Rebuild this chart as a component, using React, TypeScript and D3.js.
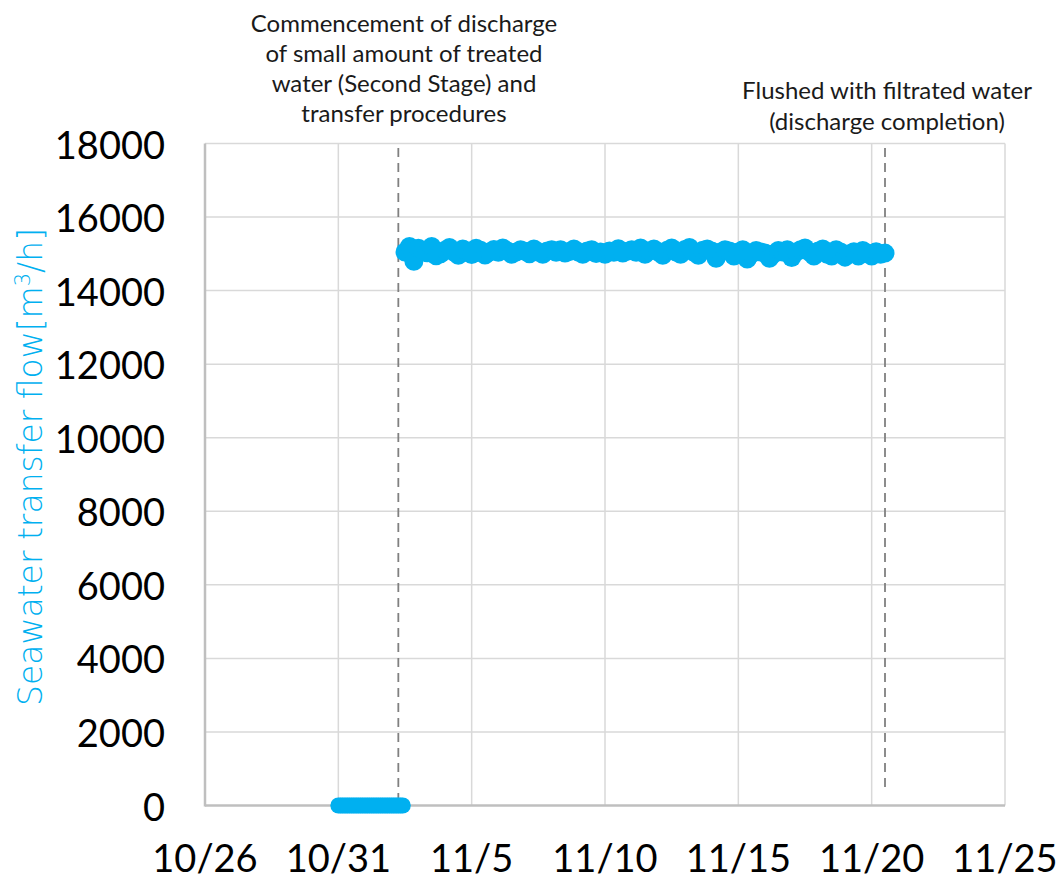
import React from "react";
import * as d3 from "d3";

// ---- data ----
const FLOW_START = "2023-11-02T12:00:00";
const FLOW_STEP_HOURS = 4;
const flowValues = [
  // 11/2 (12:00, 16:00, 20:00)
  15050, 15200, 14800,
  // 11/3
  15150, 15100, 15030, 15200, 14950, 15000,
  // 11/4
  15100, 15170, 15050, 14960, 15130, 15080,
  // 11/5
  14980, 15150, 15100, 14970, 15050, 15120,
  // 11/6
  15040, 15160, 15080, 14990, 15050, 15110,
  // 11/7
  15070, 15000, 15130, 15050, 14990, 15080,
  // 11/8
  15110, 15040, 15110, 15020, 15060, 15130,
  // 11/9
  15050, 14990, 15080, 15110, 15010, 15050,
  // 11/10
  14990, 15080, 15040, 15140, 15020, 15070,
  // 11/11
  15110, 15040, 15160, 14990, 15080, 15130,
  // 11/12
  15050, 14960, 15100, 15160, 15050, 14990,
  // 11/13
  15120, 15170, 15040, 14960, 15100, 15130,
  // 11/14
  15080, 14880, 15050, 15110, 15080, 14940,
  // 11/15
  15050, 15110, 14860, 15000, 15090, 15050,
  // 11/16
  15020, 14880, 15000, 15090, 15050, 15110,
  // 11/17
  14900, 15050, 15110, 15160, 15050, 14940,
  // 11/18
  15080, 15130, 14990, 14940, 15110, 15050,
  // 11/19
  14910, 15000, 15060, 14940, 15090, 15020,
  // 11/20 (00:00 .. 12:00)
  14940, 15060, 14990, 15020,
];

const ZERO_START = "2023-10-31T00:00:00";
const ZERO_STEP_HOURS = 2;
const zeroValues = [
  0, 0, 0, 0, 0, 0, 0, 0, 0, 0,
  0, 0, 0, 0, 0, 0, 0, 0, 0, 0,
  0, 0, 0, 0, 0, 0, 0, 0, 0, 0,
];

const xDomain = ["2023-10-26T00:00:00", "2023-11-25T00:00:00"];
const xTickDates = [
  "2023-10-26T00:00:00",
  "2023-10-31T00:00:00",
  "2023-11-05T00:00:00",
  "2023-11-10T00:00:00",
  "2023-11-15T00:00:00",
  "2023-11-20T00:00:00",
  "2023-11-25T00:00:00",
];
const xTickLabels = ["10/26", "10/31", "11/5", "11/10", "11/15", "11/20", "11/25"];
const yTicks = [0, 2000, 4000, 6000, 8000, 10000, 12000, 14000, 16000, 18000];

const eventDates = ["2023-11-02T06:00:00", "2023-11-20T12:00:00"];
const annotation1 = [
  "Commencement of discharge",
  "of small amount of treated",
  "water (Second Stage) and",
  "transfer procedures",
];
const annotation2 = ["Flushed with filtrated water", "(discharge completion)"];

const COLOR = "#00B0F0";
const FONT = "Lato, 'Open Sans', sans-serif";

function series(start: string, stepH: number, values: number[]) {
  const t0 = new Date(start).getTime();
  return values.map((v, i) => ({ date: new Date(t0 + i * stepH * 3600000), value: v }));
}

export default function App() {
  const left = 205, right = 1005, top = 143.5, bottom = 805.5;
  const x = d3.scaleTime().domain(xDomain.map((d) => new Date(d))).range([left, right]);
  const y = d3.scaleLinear().domain([0, 18000]).range([bottom, top]);

  const flow = series(FLOW_START, FLOW_STEP_HOURS, flowValues);
  const zeros = series(ZERO_START, ZERO_STEP_HOURS, zeroValues);

  const ev1 = x(new Date(eventDates[0]));
  const ev2 = x(new Date(eventDates[1]));

  return (
    <svg
      width={1060}
      height={881}
      style={{ position: "absolute", left: 0, top: 0, background: "#fff" }}
      fontFamily={FONT}
    >
      {/* horizontal gridlines */}
      {yTicks.filter((t) => t > 0).map((t) => (
        <line key={"h" + t} x1={left} x2={right} y1={y(t)} y2={y(t)} stroke="#d9d9d9" strokeWidth={1.5} />
      ))}
      {/* vertical gridlines */}
      {xTickDates.slice(1).map((d) => (
        <line key={"v" + d} x1={x(new Date(d))} x2={x(new Date(d))} y1={top} y2={bottom} stroke="#d9d9d9" strokeWidth={1.5} />
      ))}
      {/* axes */}
      <line x1={left} x2={left} y1={top} y2={bottom + 1} stroke="#bfbfbf" strokeWidth={2.5} />
      <line x1={left} x2={right} y1={bottom} y2={bottom} stroke="#bfbfbf" strokeWidth={2.5} />

      {/* event dashed lines */}
      <line x1={ev1} x2={ev1} y1={148} y2={bottom} stroke="#808080" strokeWidth={1.8} strokeDasharray="9,6" />
      <line x1={ev2} x2={ev2} y1={148} y2={790} stroke="#808080" strokeWidth={1.8} strokeDasharray="9,6" />

      {/* data */}
      {zeros.map((p, i) => (
        <circle key={"z" + i} cx={x(p.date)} cy={y(p.value)} r={8} fill={COLOR} />
      ))}
      {flow.map((p, i) => (
        <circle key={"f" + i} cx={x(p.date)} cy={y(p.value)} r={9.5} fill={COLOR} />
      ))}

      {/* y tick labels */}
      {yTicks.map((t) => (
        <text key={"yt" + t} x={165} y={y(t)} textAnchor="end" dominantBaseline="central" fontSize={38} fill="#000">
          {t}
        </text>
      ))}
      {/* x tick labels */}
      {xTickDates.map((d, i) => (
        <text key={"xt" + d} x={x(new Date(d))} y={872} textAnchor="middle" fontSize={38} fill="#000">
          {xTickLabels[i]}
        </text>
      ))}

      {/* y axis title */}
      <text
        transform={`translate(42,467) rotate(-90)`}
        textAnchor="middle"
        fontSize={33}
        fill={COLOR}
        fontFamily="'DejaVu Sans', sans-serif"
        fontWeight={200}
      >
        Seawater transfer flow[m<tspan dy={-12} fontSize={21}>3</tspan>
        <tspan dy={12}>/h]</tspan>
      </text>

      {/* annotations */}
      {annotation1.map((s, i) => (
        <text key={"a1" + i} x={404} y={32 + i * 30} textAnchor="middle" fontSize={24} fill="#1a1a1a">
          {s}
        </text>
      ))}
      {annotation2.map((s, i) => (
        <text key={"a2" + i} x={887} y={99 + i * 31} textAnchor="middle" fontSize={24} fill="#1a1a1a">
          {s}
        </text>
      ))}
    </svg>
  );
}
